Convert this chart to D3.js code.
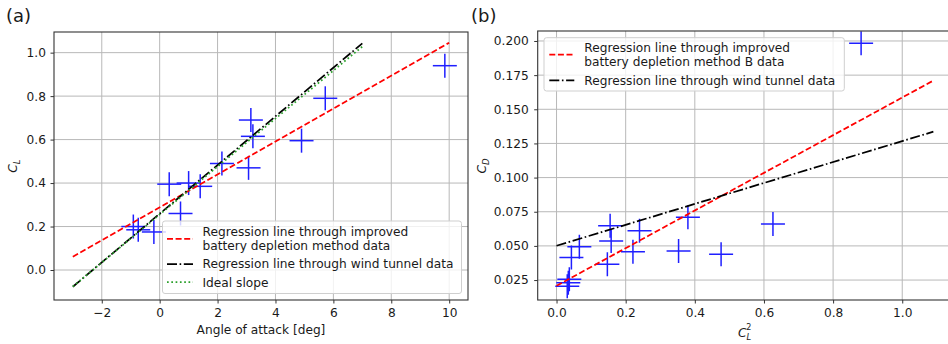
<!DOCTYPE html>
<html><head><meta charset="utf-8">
<script src="https://cdn.jsdelivr.net/npm/d3@7"></script>
<style>body{margin:0;background:#fff} svg{display:block} text{font-family:"DejaVu Sans",sans-serif;fill:#1a1a1a}</style>
</head><body><svg id="c" width="948" height="344"></svg>
<script>
// ---------- Panel (a) data ----------
const aoa = [9.85, 5.72, 4.9, 3.15, 3.22, 3.07, 2.15, 1.4, 1.0, 0.33, 0.72, -0.91, -0.74, -0.2];
const cl  = [0.94, 0.79, 0.595, 0.69, 0.615, 0.47, 0.49, 0.385, 0.40, 0.395, 0.26, 0.20, 0.185, 0.175];
const regBatteryA_x = [-3, 10];  const regBatteryA_y = [0.061, 1.046];
const regTunnelA_x  = [-3, 7];   const regTunnelA_y  = [-0.077, 1.043];
const idealA_x      = [-3, 7];   const idealA_y      = [-0.076, 1.028];
const xTicksA = [-2, 0, 2, 4, 6, 8, 10];
const yTicksA = [0.0, 0.2, 0.4, 0.6, 0.8, 1.0];
const legendA = ["Regression line through improved\nbattery depletion method data",
                 "Regression line through wind tunnel data", "Ideal slope"];
// ---------- Panel (b) data ----------
const cl2 = [0.881, 0.626, 0.476, 0.380, 0.353, 0.240, 0.221, 0.155, 0.158, 0.147, 0.066, 0.043, 0.037, 0.034, 0.031];
const cd  = [0.1983, 0.066, 0.0438, 0.0709, 0.0462, 0.0611, 0.0457, 0.0648, 0.0536, 0.0365, 0.0494, 0.0415, 0.0255, 0.023, 0.0205];
const regBatteryB_x = [0, 1.09]; const regBatteryB_y = [0.0208, 0.171];
const regTunnelB_x  = [0, 1.09]; const regTunnelB_y  = [0.0501, 0.1336];
const xTicksB = [0.0, 0.2, 0.4, 0.6, 0.8, 1.0];
const yTicksB = [0.025, 0.050, 0.075, 0.100, 0.125, 0.150, 0.175, 0.200];
const legendB = ["Regression line through improved\nbattery depletion method B data",
                 "Regression line through wind tunnel data"];

// ---------- styles ----------
const FS = 12.2;
const MARK = 12;          // half-size of '+' markers in px
const LW = 1.75;
const BLUE = "#1f1fff", RED = "#ff0000", BLACK = "#000000", GREEN = "#2ca02c";
const DASH = "6,2.6", DASHDOT = "10,2.6,1.6,2.6", DOT = "1.7,2.6";

const svg = d3.select("#c");

function panel(cfg) {
  const g = svg.append("g");
  const {x, y} = cfg;
  const [x0, x1] = x.range(), [y0, y1] = y.range();
  const clipId = "clip" + cfg.id;
  svg.append("clipPath").attr("id", clipId).append("rect")
    .attr("x", x0).attr("y", y1).attr("width", x1 - x0).attr("height", y0 - y1);
  const plot = g.append("g").attr("clip-path", `url(#${clipId})`);
  // grid
  plot.selectAll(".gx").data(cfg.xTicks).join("line")
    .attr("x1", d => x(d)).attr("x2", d => x(d)).attr("y1", y1).attr("y2", y0)
    .attr("stroke", "#b8b8b8").attr("stroke-width", 1);
  plot.selectAll(".gy").data(cfg.yTicks).join("line")
    .attr("y1", d => y(d)).attr("y2", d => y(d)).attr("x1", x0).attr("x2", x1)
    .attr("stroke", "#b8b8b8").attr("stroke-width", 1);
  // markers
  const pts = cfg.px.map((v, i) => [v, cfg.py[i]]);
  const mk = plot.append("g").attr("stroke", BLUE).attr("stroke-width", 1.5);
  pts.forEach(([a, b]) => {
    mk.append("line").attr("x1", x(a) - MARK).attr("x2", x(a) + MARK).attr("y1", y(b)).attr("y2", y(b));
    mk.append("line").attr("x1", x(a)).attr("x2", x(a)).attr("y1", y(b) - MARK).attr("y2", y(b) + MARK);
  });
  // lines
  const line = d3.line().x(d => x(d[0])).y(d => y(d[1]));
  cfg.lines.forEach(L => {
    plot.append("path").attr("d", line(L.xs.map((v, i) => [v, L.ys[i]])))
      .attr("fill", "none").attr("stroke", L.color).attr("stroke-width", LW)
      .attr("stroke-dasharray", L.dash);
  });
  // frame
  g.append("rect").attr("x", x0).attr("y", y1).attr("width", x1 - x0).attr("height", y0 - y1)
    .attr("fill", "none").attr("stroke", "#333").attr("stroke-width", 1.1);
  // axes
  const ax = g.append("g").attr("transform", `translate(0,${y0})`)
    .call(d3.axisBottom(x).tickValues(cfg.xTicks).tickFormat(cfg.xFmt).tickSize(3.5).tickPadding(4.5));
  const ay = g.append("g").attr("transform", `translate(${x0},0)`)
    .call(d3.axisLeft(y).tickValues(cfg.yTicks).tickFormat(cfg.yFmt).tickSize(3.5).tickPadding(cfg.ypad));
  [ax, ay].forEach(a => {
    a.select(".domain").remove();
    a.selectAll(".tick line").attr("stroke", "#333").attr("stroke-width", 1);
    a.selectAll(".tick text").attr("font-size", FS).attr("fill", "#1a1a1a")
      .attr("font-family", '"DejaVu Sans",sans-serif');
  });
  // legend
  const lg = cfg.legend;
  const L = g.append("g");
  L.append("rect").attr("x", lg.x).attr("y", lg.y).attr("width", lg.w).attr("height", lg.h)
    .attr("rx", 2.5).attr("fill", "#fff").attr("fill-opacity", 0.8).attr("stroke", "#cfcfcf");
  let cy = lg.y + lg.first;
  lg.items.forEach((it, i) => {
    const rows = it.label.split("\n");
    const mid = cy + (rows.length - 1) * lg.rowGap / 2;
    L.append("line").attr("x1", lg.x + lg.hx0).attr("x2", lg.x + lg.hx1).attr("y1", mid).attr("y2", mid)
      .attr("stroke", it.color).attr("stroke-width", LW).attr("stroke-dasharray", it.dash);
    rows.forEach((r, k) => {
      L.append("text").attr("x", lg.x + lg.tx).attr("y", cy + k * lg.rowGap + 4.4)
        .attr("font-size", FS).text(r);
    });
    cy += (rows.length - 1) * lg.rowGap + lg.entryGap;
  });
  return g;
}

// Panel (a)
const xA = d3.scaleLinear().domain([-3.65, 10.65]).range([54, 468]);
const yA = d3.scaleLinear().domain([-0.138, 1.095]).range([300, 32]);
panel({
  id: "a", x: xA, y: yA, xTicks: xTicksA, yTicks: yTicksA,
  xFmt: d3.format("d"), yFmt: d3.format(".1f"), ypad: 4.5,
  px: aoa, py: cl,
  lines: [
    {xs: regBatteryA_x, ys: regBatteryA_y, color: RED, dash: DASH},
    {xs: regTunnelA_x, ys: regTunnelA_y, color: BLACK, dash: DASHDOT},
    {xs: idealA_x, ys: idealA_y, color: GREEN, dash: DOT}
  ],
  legend: {x: 162.5, y: 221, w: 299, h: 72.5, first: 10.8, rowGap: 14, entryGap: 18.2,
    hx0: 4.5, hx1: 30.5, tx: 40,
    items: [
      {label: legendA[0], color: RED, dash: DASH},
      {label: legendA[1], color: BLACK, dash: DASHDOT},
      {label: legendA[2], color: GREEN, dash: DOT}
    ]}
});

// Panel (b)
const xB = d3.scaleLinear().domain([-0.0545, 1.1445]).range([537.7, 952.2]);
const yB = d3.scaleLinear().domain([0.0104, 0.2073]).range([300, 31]);
panel({
  id: "b", x: xB, y: yB, xTicks: xTicksB, yTicks: yTicksB,
  xFmt: d3.format(".1f"), yFmt: d3.format(".3f"), ypad: 5.5,
  px: cl2, py: cd,
  lines: [
    {xs: regBatteryB_x, ys: regBatteryB_y, color: RED, dash: DASH},
    {xs: regTunnelB_x, ys: regTunnelB_y, color: BLACK, dash: DASHDOT}
  ],
  legend: {x: 544, y: 37.7, w: 300.3, h: 53.3, first: 10, rowGap: 14, entryGap: 18.6,
    hx0: 5.3, hx1: 30.3, tx: 40.3,
    items: [
      {label: legendB[0], color: RED, dash: DASH},
      {label: legendB[1], color: BLACK, dash: DASHDOT}
    ]}
});

// axis labels
svg.append("text").attr("x", 261).attr("y", 334).attr("text-anchor", "middle")
  .attr("font-size", FS).text("Angle of attack [deg]");
const yla = svg.append("text").attr("transform", "translate(17,166) rotate(-90)")
  .attr("text-anchor", "middle").attr("font-size", FS);
yla.append("tspan").attr("font-style", "italic").text("C");
yla.append("tspan").attr("font-style", "italic").attr("font-size", 8.5).attr("dy", 2.5).text("L");

const ylb = svg.append("text").attr("transform", "translate(486,166) rotate(-90)")
  .attr("text-anchor", "middle").attr("font-size", FS);
ylb.append("tspan").attr("font-style", "italic").text("C");
ylb.append("tspan").attr("font-style", "italic").attr("font-size", 8.5).attr("dy", 2.5).text("D");

const xlb = svg.append("text").attr("x", 738).attr("y", 337).attr("font-size", FS);
xlb.append("tspan").attr("font-style", "italic").text("C");
xlb.append("tspan").attr("font-style", "italic").attr("font-size", 8.5).attr("dy", 2.5).text("L");
xlb.append("tspan").attr("font-size", 8).attr("dx", -5).attr("dy", -9.5).text("2");

// panel labels
svg.append("text").attr("x", 6).attr("y", 22).attr("font-size", 18).text("(a)");
svg.append("text").attr("x", 471).attr("y", 22).attr("font-size", 18).text("(b)");
</script></body></html>
